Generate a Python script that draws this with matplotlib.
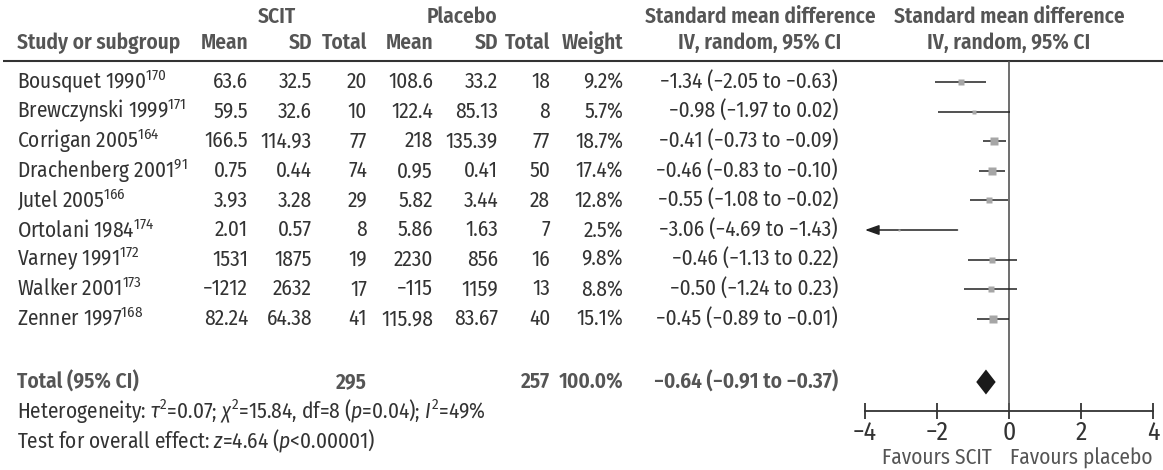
import matplotlib
matplotlib.use("Agg")
import matplotlib.pyplot as plt
from matplotlib import font_manager
import numpy as np

###############################################################################
# Données du forest plot (SCIT vs placebo)

etudes = ["Bousquet 1990", "Brewczynski 1999", "Corrigan 2005", "Drachenberg 2001",
          "Jutel 2005", "Ortolani 1984", "Varney 1991", "Walker 2001", "Zenner 1997"]
refs = ["170", "171", "164", "91", "166", "174", "172", "173", "168"]

scit_moy = [63.6, 59.5, 166.5, 0.75, 3.93, 2.01, 1531, -1212, 82.24]
scit_sd = [32.5, 32.6, 114.93, 0.44, 3.28, 0.57, 1875, 2632, 64.38]
scit_n = [20, 10, 77, 74, 29, 8, 19, 17, 41]

plac_moy = [108.6, 122.4, 218, 0.95, 5.82, 5.86, 2230, -115, 115.98]
plac_sd = [33.2, 85.13, 135.39, 0.41, 3.44, 1.63, 856, 1159, 83.67]
plac_n = [18, 8, 77, 50, 28, 7, 16, 13, 40]

poids = [9.2, 5.7, 18.7, 17.4, 12.8, 2.5, 9.8, 8.8, 15.1]
smd = [-1.34, -0.98, -0.41, -0.46, -0.55, -3.06, -0.46, -0.50, -0.45]
ic_bas = [-2.05, -1.97, -0.73, -0.83, -1.08, -4.69, -1.13, -1.24, -0.89]
ic_haut = [-0.63, 0.02, -0.09, -0.10, -0.02, -1.43, 0.22, 0.23, -0.01]

total_scit = 295
total_plac = 257
total_poids = 100.0
total_smd, total_bas, total_haut = -0.64, -0.91, -0.37

heterogeneite = r"Heterogeneity: $\tau^2$=0.07; $\chi^2$=15.84, df=8 ($p$=0.04); $I^2$=49%"
effet_global = r"Test for overall effect: $z$=4.64 ($p$<0.00001)"

ticks = [-4, -2, 0, 2, 4]

###############################################################################
# Police condensée si disponible

fonte = "DejaVu Sans"
for nom in ["Fira Sans Condensed", "Liberation Sans Narrow", "Pragati Narrow"]:
    try:
        font_manager.findfont(nom, fallback_to_default=False)
        fonte = nom
        break
    except ValueError:
        pass

plt.rcParams['font.family'] = [fonte, 'DejaVu Sans']
plt.rcParams['mathtext.fontset'] = 'custom'
plt.rcParams['mathtext.rm'] = fonte
plt.rcParams['mathtext.it'] = fonte + ':italic'
plt.rcParams['mathtext.bf'] = fonte + ':bold'

def moins(s):
    return s.replace("-", "\u2212")

def fmt(v):
    return moins(f"{v:g}")

def ic(e, b, h):
    return moins(f"{e:.2f} ({b:.2f} to {h:.2f})")

###############################################################################
# Mise en page (unités : lignes du tableau)

W, H = 1163, 470
fig = plt.figure(figsize=(W / 100, H / 100), dpi=100)

y0, dy = 82, 29.6          # centre de la 1re ligne et pas en pixels
def lig(pix):
    return (pix - y0) / dy

ylim = (lig(H), lig(0))
y_grp, y_ent, y_trait = lig(17), lig(43), lig(61)
y_tot, y_het, y_test = lig(382), lig(411), lig(441)
y_axe, y_fav = lig(411), lig(458)

noir = "#333333"
gris = "#555555"
gras = "semibold"

# taille de police calée sur la largeur d'un libellé
renderer = fig.canvas.get_renderer()
t = fig.text(0, 0, "Bousquet 1990", fontsize=10)
larg = t.get_window_extent(renderer).width
t.remove()
fs = 10 * 129 / larg

ax_t = fig.add_axes([0, 0, 1, 1])
ax_t.set_xlim(0, W)
ax_t.set_ylim(*ylim)
ax_t.axis("off")

x_nom = 17
cols = [248, 312, 367, 433, 498, 550, 623, 838]

# en-têtes
ax_t.text(277, y_grp, "SCIT", ha="center", va="center", fontsize=fs, fontweight=gras, color=gris)
ax_t.text(462, y_grp, "Placebo", ha="center", va="center", fontsize=fs, fontweight=gras, color=gris)
ax_t.text(760, y_grp, "Standard mean difference", ha="center", va="center", fontsize=fs, fontweight=gras, color=gris)
ax_t.text(x_nom, y_ent, "Study or subgroup", ha="left", va="center", fontsize=fs, fontweight=gras, color=gris)
for x, s in zip(cols[:7], ["Mean", "SD", "Total", "Mean", "SD", "Total", "Weight"]):
    ax_t.text(x, y_ent, s, ha="right", va="center", fontsize=fs, fontweight=gras, color=gris)
ax_t.text(760, y_ent, "IV, random, 95% CI", ha="center", va="center", fontsize=fs, fontweight=gras, color=gris)
ax_t.hlines(y_trait, 3, W, color=noir, lw=1.5)

# lignes des études
for i in range(len(etudes)):
    ax_t.text(x_nom, i, etudes[i] + "$^{" + refs[i] + "}$", ha="left", va="center", fontsize=fs, color=noir)
    vals = [fmt(scit_moy[i]), fmt(scit_sd[i]), str(scit_n[i]),
            fmt(plac_moy[i]), fmt(plac_sd[i]), str(plac_n[i]),
            f"{poids[i]:.1f}%", ic(smd[i], ic_bas[i], ic_haut[i])]
    for x, s in zip(cols, vals):
        ax_t.text(x, i, s, ha="right", va="center", fontsize=fs, color=noir)

# ligne du total
ax_t.text(x_nom, y_tot, "Total (95% CI)", ha="left", va="center", fontsize=fs, fontweight=gras, color=gris)
for x, s in [(cols[2], str(total_scit)), (cols[5], str(total_plac)),
             (cols[6], f"{total_poids:.1f}%"), (cols[7], ic(total_smd, total_bas, total_haut))]:
    ax_t.text(x, y_tot, s, ha="right", va="center", fontsize=fs, fontweight=gras, color=gris)

ax_t.text(x_nom, y_het, heterogeneite, ha="left", va="center", fontsize=fs, color=noir)
ax_t.text(x_nom, y_test, effet_global, ha="left", va="center", fontsize=fs, color=noir)

###############################################################################
# Forest plot

ax_f = fig.add_axes([865 / W, 0, 288 / W, 1])
ax_f.set_xlim(-4, 4)
ax_f.set_ylim(*ylim)
ax_f.patch.set_visible(False)
for c in ["left", "right", "top"]:
    ax_f.spines[c].set_visible(False)
ax_f.spines["bottom"].set_position(("data", y_axe))
ax_f.spines["bottom"].set_color(noir)
ax_f.spines["bottom"].set_linewidth(1.3)
ax_f.set_yticks([])
ax_f.set_xticks(ticks)
ax_f.set_xticklabels([moins(str(v)) for v in ticks])
ax_f.tick_params(axis="x", direction="inout", length=12, width=1.3, colors=noir,
                 labelsize=fs * 1.2, pad=1)

ax_f.vlines(0, y_trait, y_axe, color=gris, lw=1.2)

xmin = ax_f.get_xlim()[0]
for i in range(len(etudes)):
    b = max(ic_bas[i], xmin)
    if ic_bas[i] < xmin:
        ax_f.annotate("", xy=(xmin, i), xytext=(ic_haut[i], i),
                      arrowprops=dict(arrowstyle="-|>,head_length=0.7,head_width=0.25",
                                      mutation_scale=12, color="#222222", lw=1.1,
                                      shrinkA=0, shrinkB=0))
    else:
        ax_f.plot([b, ic_haut[i]], [i, i], color="#222222", lw=1.1, solid_capstyle="butt")
    cote = 1.85 * np.sqrt(poids[i]) * 0.72
    ax_f.plot(smd[i], i, marker="s", ms=cote, color="#a6a6a6", mec="none", zorder=3)

h = 12.5 / dy
ax_f.fill([total_bas, total_smd, total_haut, total_smd],
          [y_tot, y_tot - h, y_tot, y_tot + h], color="#1a1a1a", lw=0, zorder=3)

ax_f.text(0, y_grp, "Standard mean difference", ha="center", va="center", fontsize=fs,
          fontweight=gras, color=gris, clip_on=False)
ax_f.text(0, y_ent, "IV, random, 95% CI", ha="center", va="center", fontsize=fs,
          fontweight=gras, color=gris, clip_on=False)
ax_f.text(-2, y_fav, "Favours SCIT", ha="center", va="center", fontsize=fs, color=gris, clip_on=False)
ax_f.text(2, y_fav, "Favours placebo", ha="center", va="center", fontsize=fs, color=gris, clip_on=False)

fig.savefig("out.png", dpi=100)
